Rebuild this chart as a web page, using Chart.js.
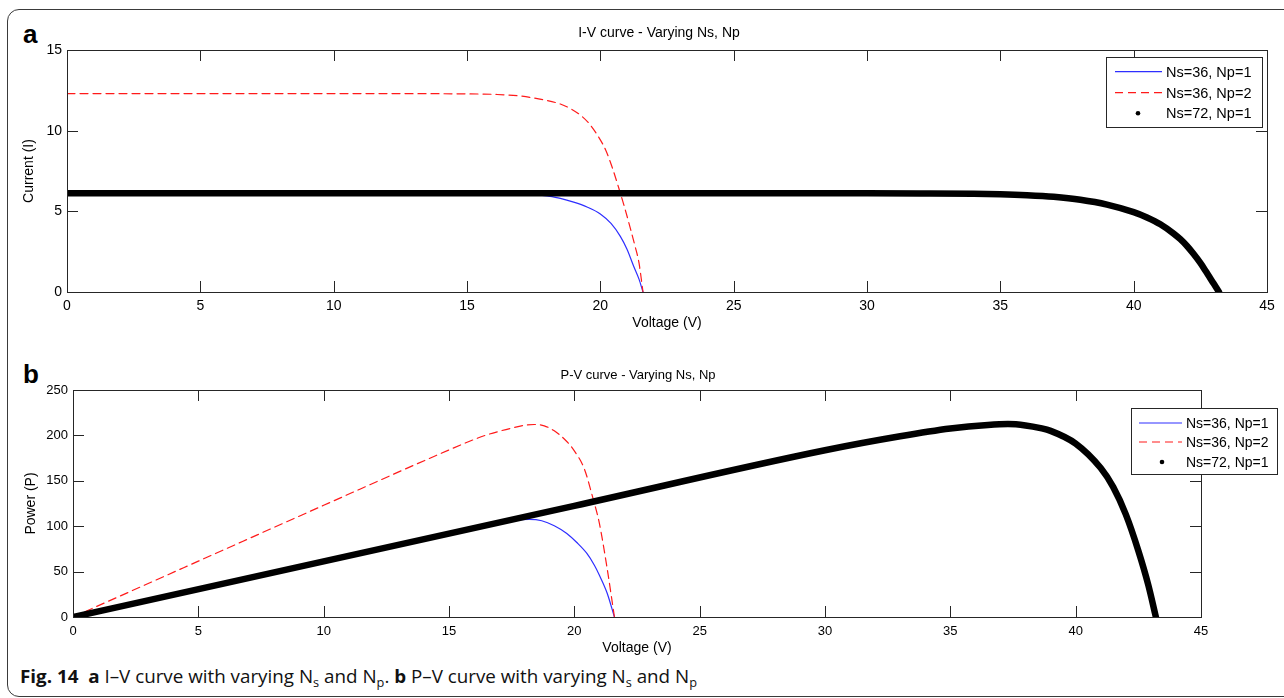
<!DOCTYPE html>
<html>
<head>
<meta charset="utf-8">
<script src="https://cdn.jsdelivr.net/npm/chart.js@4.4.1/dist/chart.umd.min.js"></script>
<style>
  body { margin: 0; background: #fff; width: 1284px; height: 698px; overflow: hidden; position: relative; font-family: "Liberation Sans", Arial, sans-serif; }
  #frame { position: absolute; left: 7px; top: 9px; width: 1330px; height: 686px; border: 1.5px solid #3a3a3a; border-radius: 12px; }
  .panel { position: absolute; left: 23px; font-weight: bold; font-size: 26px; line-height: 26px; }
  canvas { position: absolute; left: 0; }
  #cap { position: absolute; left: 20px; top: 666px; font-family: "Open Sans", sans-serif; font-size: 18px; line-height: 20px; white-space: nowrap; transform-origin: left top; color: #111; }
  #cap sub { font-size: 0.68em; vertical-align: -0.3em; line-height: 0; }
</style>
</head>
<body>
<div id="frame"></div>
<div class="panel" style="top:21px">a</div>
<div class="panel" style="top:361px">b</div>
<canvas id="ivChart" width="1284" height="324" style="top:16px"></canvas>
<canvas id="pvChart" width="1284" height="304" style="top:356px"></canvas>
<div id="cap"><b>Fig. 14</b>&nbsp; <b>a</b> I–V curve with varying N<sub>s</sub> and N<sub>p</sub>. <b>b</b> P–V curve with varying N<sub>s</sub> and N<sub>p</sub></div>

<script>
// series names and tick labels
const seriesNames = ['Ns=36, Np=1', 'Ns=36, Np=2', 'Ns=72, Np=1'];
const voltTicks = [0, 5, 10, 15, 20, 25, 30, 35, 40, 45];
const currentTicks = [0, 5, 10, 15];
const powerTicks = [0, 50, 100, 150, 200, 250];

// I-V curves (voltage, current)
const ivVolt1 = [0, 5, 10, 15, 17, 17.7, 18, 18.5, 19, 19.5, 20, 20.4, 20.75, 21.0, 21.25, 21.45, 21.6];
const ivCurr1 = [6.12, 6.12, 6.12, 6.11, 6.08, 6.02, 5.95, 5.8, 5.57, 5.27, 4.84, 4.25, 3.45, 2.65, 1.6, 0.8, 0];
const ivVolt2 = [0, 5, 10, 15, 16, 17, 17.9, 18.5, 18.9, 19.3, 19.6, 19.9, 20.2, 20.45, 20.7, 20.9, 21.1, 21.3, 21.45, 21.6];
const ivCurr2 = [12.3, 12.3, 12.3, 12.28, 12.25, 12.15, 11.9, 11.65, 11.35, 10.9, 10.4, 9.7, 8.8, 7.7, 6.4, 5.3, 4.1, 2.85, 1.8, 0];
const ivVolt3 = [0, 10, 20, 30, 32, 34, 35, 36, 37, 38, 39, 40, 40.5, 41, 41.5, 41.75, 42, 42.25, 42.5, 42.7, 43.0, 43.2];
const ivCurr3 = [6.12, 6.12, 6.12, 6.12, 6.11, 6.09, 6.06, 6.0, 5.9, 5.72, 5.42, 4.95, 4.62, 4.2, 3.62, 3.27, 2.85, 2.35, 1.8, 1.3, 0.52, 0];

// P-V curves (voltage, power)
const pvVolt1 = [0, 5, 10, 15, 17.7, 18.2, 18.7, 19.2, 19.7, 20.1, 20.5, 20.8, 21.0, 21.3, 21.6];
const pvPow1 = [0, 30.6, 61.2, 91.8, 107, 107.5, 106, 100.5, 92, 82, 70, 57, 46, 27, 0];
const pvVolt2 = [0, 5, 10, 15, 16, 16.5, 17, 17.5, 18, 18.4, 18.8, 19.2, 19.6, 20, 20.4, 20.75, 21, 21.3, 21.6];
const pvPow2 = [0, 61.5, 123, 184, 195.5, 200.5, 204.5, 208, 211, 212, 210.5, 205, 196, 183, 163, 130, 103, 55, 0];
const pvVolt3 = [0, 10, 20, 30, 33, 35, 36.5, 37.3, 38, 38.6, 39, 40, 41, 41.5, 42, 42.5, 42.9, 43.2];
const pvPow3 = [0, 61.2, 122.4, 183.6, 199, 207.5, 211.5, 212.5, 211, 208, 205, 191, 164, 143, 113, 73, 35, 0];

function pts(xs, ys) {
  return xs.map((x, i) => ({ x: x, y: ys[i] }));
}

// matlab look: box, inward ticks on all sides, title and legend drawn inside
const matlabFrame = {
  id: 'matlabFrame',
  afterDraw(chart, args, o) {
    const ctx = chart.ctx;
    const a = chart.chartArea;
    const xs = chart.scales.x, ys = chart.scales.y;
    ctx.save();
    ctx.strokeStyle = '#262626';
    ctx.lineWidth = 1;
    ctx.beginPath();
    xs.ticks.forEach(t => {
      const px = Math.round(xs.getPixelForValue(t.value)) + 0.5;
      ctx.moveTo(px, a.bottom); ctx.lineTo(px, a.bottom - 11);
      ctx.moveTo(px, a.top); ctx.lineTo(px, a.top + 11);
    });
    ys.ticks.forEach(t => {
      const py = Math.round(ys.getPixelForValue(t.value)) + 0.5;
      ctx.moveTo(a.left, py); ctx.lineTo(a.left + 11, py);
      ctx.moveTo(a.right, py); ctx.lineTo(a.right - 11, py);
    });
    ctx.stroke();
    ctx.strokeRect(Math.round(a.left) + 0.5, Math.round(a.top) + 0.5, Math.round(a.right - a.left), Math.round(a.bottom - a.top));

    // title
    ctx.fillStyle = '#000';
    ctx.font = o.titleFont;
    ctx.textAlign = 'center';
    ctx.textBaseline = 'middle';
    ctx.fillText(o.title, o.titleX, o.titleY);

    // legend
    const L = o.legend;
    ctx.fillStyle = '#fff';
    ctx.fillRect(L.x, L.y, L.w, L.h);
    ctx.strokeStyle = '#262626';
    ctx.strokeRect(L.x + 0.5, L.y + 0.5, L.w, L.h);
    ctx.font = L.font;
    ctx.textAlign = 'left';
    chart.data.datasets.forEach((ds, i) => {
      const y = L.rows[i];
      if (ds.legendDot) {
        ctx.fillStyle = ds.borderColor;
        ctx.beginPath();
        ctx.arc(L.dotX, y, 2.3, 0, Math.PI * 2);
        ctx.fill();
      } else {
        ctx.strokeStyle = ds.borderColor;
        ctx.lineWidth = ds.borderWidth;
        ctx.setLineDash(ds.borderDash || []);
        ctx.beginPath();
        ctx.moveTo(L.x0, y); ctx.lineTo(L.x1, y);
        ctx.stroke();
        ctx.setLineDash([]);
      }
      ctx.fillStyle = '#000';
      ctx.fillText(ds.label, L.textX, y + 1);
    });
    ctx.restore();
  }
};

function makeDatasets(sets) {
  return [
    { label: seriesNames[0], data: sets[0], borderColor: '#2e2eff', borderWidth: 1.2, order: 3 },
    { label: seriesNames[1], data: sets[1], borderColor: '#ff1a1a', borderWidth: 1.2, borderDash: [8, 5], order: 2 },
    { label: seriesNames[2], data: sets[2], borderColor: '#000000', borderWidth: 6.5, order: 1, legendDot: true }
  ];
}

function makeChart(id, sets, yTicks, yMax, yTitle, c) {
  return new Chart(document.getElementById(id), {
    type: 'scatter',
    data: { datasets: makeDatasets(sets) },
    options: {
      responsive: false,
      animation: false,
      devicePixelRatio: 1,
      showLine: true,
      layout: { padding: c.padding },
      elements: {
        point: { radius: 0, hoverRadius: 0 },
        line: { cubicInterpolationMode: 'monotone', borderCapStyle: 'round', fill: false }
      },
      scales: {
        x: {
          type: 'linear', min: 0, max: 45,
          afterBuildTicks: s => { s.ticks = voltTicks.map(v => ({ value: v })); },
          ticks: { color: '#000', font: { family: 'Liberation Sans', size: c.tickSize }, padding: c.xTickPad, maxRotation: 0, autoSkip: false },
          grid: { display: false, drawTicks: false },
          border: { display: false },
          title: { display: true, text: 'Voltage (V)', color: '#000', font: { family: 'Liberation Sans', size: 14 }, padding: { top: 0, bottom: c.xTitlePad } },
          afterFit: s => { s.height = c.xHeight; }
        },
        y: {
          type: 'linear', min: 0, max: yMax,
          afterBuildTicks: s => { s.ticks = yTicks.map(v => ({ value: v })); },
          ticks: { color: '#000', font: { family: 'Liberation Sans', size: c.tickSize }, padding: 5 },
          grid: { display: false, drawTicks: false },
          border: { display: false },
          title: { display: true, text: yTitle, color: '#000', font: { family: 'Liberation Sans', size: 14 }, padding: { top: c.yTitlePad, bottom: 0 } },
          afterFit: s => { s.width = c.yWidth; }
        }
      },
      plugins: {
        legend: { display: false },
        tooltip: { enabled: false },
        matlabFrame: c.frame
      }
    },
    plugins: [matlabFrame]
  });
}

makeChart('ivChart', [pts(ivVolt1, ivCurr1), pts(ivVolt2, ivCurr2), pts(ivVolt3, ivCurr3)], currentTicks, 15, 'Current (I)', {
  padding: { top: 34, right: 17, left: 0, bottom: 0 },
  tickSize: 14, xTickPad: 6, xHeight: 48, xTitlePad: 8.6, yWidth: 67, yTitlePad: 21,
  frame: {
    title: 'I-V curve - Varying Ns, Np', titleFont: '14px "Liberation Sans"', titleX: 659, titleY: 17,
    legend: { x: 1106, y: 41, w: 156, h: 70, rows: [55.7, 76.7, 97.3], x0: 1115, x1: 1162, dotX: 1138, textX: 1166, font: '14.5px "Liberation Sans"' }
  }
});

makeChart('pvChart', [pts(pvVolt1, pvPow1), pts(pvVolt2, pvPow2), pts(pvVolt3, pvPow3)], powerTicks, 250, 'Power (P)', {
  padding: { top: 34, right: 83, left: 0, bottom: 0 },
  tickSize: 13, xTickPad: 7, xHeight: 43, xTitlePad: 3.6, yWidth: 73, yTitlePad: 22.6,
  frame: {
    title: 'P-V curve - Varying Ns, Np', titleFont: '13px "Liberation Sans"', titleX: 638, titleY: 19,
    legend: { x: 1131, y: 52, w: 146, h: 66, rows: [67, 86, 106], x0: 1139, x1: 1182, dotX: 1162, textX: 1186, font: '14px "Liberation Sans"' }
  }
});

// squeeze the caption to the width of the original (condensed face)
const cap = document.getElementById('cap');
const w = cap.getBoundingClientRect().width;
cap.style.transform = 'scaleX(' + (677 / w) + ')';
</script>
</body>
</html>
